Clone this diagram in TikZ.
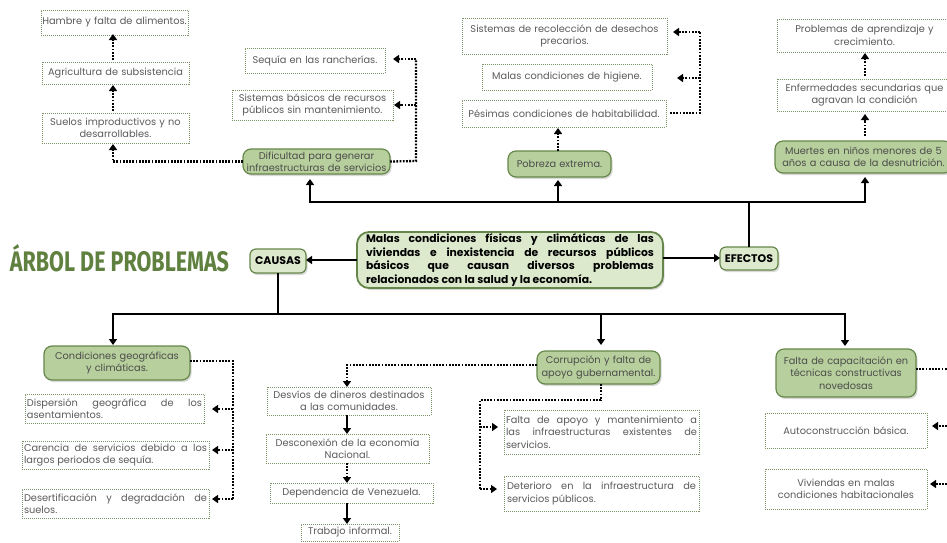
\documentclass[tikz,border=0pt]{standalone}
\usepackage{fontspec}
\usepackage{graphicx}
\setmainfont{Poppins}
\newfontfamily\titlefont{Fira Sans}
\usetikzlibrary{arrows.meta,shadows,calc}
\definecolor{boxline}{HTML}{7C9366}
\definecolor{txt}{HTML}{5A5A5A}
\definecolor{leaf}{HTML}{B7CF9C}
\definecolor{leafline}{HTML}{66874A}
\definecolor{pale}{HTML}{DCE9CD}
\definecolor{olive}{HTML}{5F803E}
\tikzset{
  x=1pt,y=-1pt,
  base/.style={inner sep=0pt,outer sep=0pt,text=txt,font=\fontsize{9.8}{12.4}\selectfont,align=center},
  dbox/.style={base,draw=boxline,line width=0.9pt,dash pattern=on 1pt off 1pt},
  jbox/.style={dbox,align=justify},
  leafbox/.style={base,draw=leafline,line width=1.2pt,fill=leaf,rounded corners=8pt,text=txt!85!black,
    drop shadow={opacity=0.3,shadow xshift=1.5pt,shadow yshift=-2pt}},
  mainbox/.style={leafbox,fill=pale,text=black,line width=1.8pt,rounded corners=12pt,align=justify,
    font=\fontsize{10.8}{13.7}\selectfont\bfseries},
  headbox/.style={leafbox,fill=pale,text=black,rounded corners=6pt,font=\fontsize{11}{12}\selectfont\bfseries},
  solidarrow/.style={line width=2pt,draw=black,-{Triangle[length=6pt,width=8pt]}},
  solidline/.style={line width=2pt,draw=black},
  dotarrow/.style={line width=2.3pt,draw=black,dash pattern=on 1.8pt off 1.4pt,-{Triangle[length=6pt,width=8pt,sep=0pt]}},
  dotline/.style={line width=2.3pt,draw=black,dash pattern=on 1.8pt off 1.4pt},
}
\newcommand{\bx}[7][5]{%
  \pgfmathsetmacro{\bxw}{#5-#3}\pgfmathsetmacro{\bxh}{#6-#4}%
  \pgfmathsetmacro{\bxc}{(#3+#5)/2}\pgfmathsetmacro{\bxm}{(#4+#6)/2}%
  \pgfmathsetmacro{\bxt}{\bxw-2*#1}%
  \node[#2,minimum width=\bxw pt,minimum height=\bxh pt,text width=\bxt pt] (#7) at (\bxc,\bxm)}
\begin{document}
\begin{tikzpicture}
\useasboundingbox (0,0) rectangle (947,542);
\clip (0,0) rectangle (947,542);
% title
\node[inner sep=0pt,text=olive] (title) at (119.5,258.5) {\resizebox{219pt}{27pt}{\titlefont\bfseries ÁRBOL DE PROBLEMAS}};
% top-left
\bx[1]{dbox}{41}{10}{188}{35}{hambre} {Hambre y falta de alimentos.};
\bx[1]{dbox}{42}{62}{189}{84}{agri} {Agricultura de subsistencia};
\bx[1]{dbox}{42}{113}{189}{143}{suelos} {Suelos improductivos y no\\desarrollables.};
\bx[1]{dbox}{245}{48}{385}{73}{sequia} {Sequía en las rancherías.};
\bx[1]{dbox}{232}{90}{393}{120}{sisbas} {Sistemas básicos de recursos\\públicos sin mantenimiento.};
\bx[1]{leafbox}{243}{149}{390}{174}{dific} {Dificultad para generar\\infraestructuras de servicios};
% top-middle
\bx[1]{dbox}{462}{18}{667}{54}{recol} {Sistemas de recolección de desechos\\precarios.};
\bx[1]{dbox}{482}{64}{652}{90}{higiene} {Malas condiciones de higiene.};
\bx[1]{dbox}{462}{100}{666}{127}{pesimas} {Pésimas condiciones de habitabilidad.};
\bx[1]{leafbox}{508}{151}{611}{177}{pobreza} {Pobreza extrema.};
% top-right
\bx[1]{dbox}{777}{19}{952}{52}{aprend} {Problemas de aprendizaje y\\crecimiento.};
\bx[1]{dbox}{777}{79}{952}{111}{enferm} {Enfermedades secundarias que\\agravan la condición};
\bx[1]{leafbox}{775}{141}{952}{173}{muertes} {Muertes en niños menores de 5\\años a causa de la desnutrición.};
% centre
\bx[9]{mainbox}{357}{232}{663}{288}{main} {Malas condiciones físicas y climáticas de las\linebreak viviendas e inexistencia de recursos públicos\linebreak básicos que causan diversos problemas\linebreak relacionados con la salud y la economía.};
\bx[1]{headbox}{250}{249}{306}{273}{causas} {CAUSAS};
\bx[1]{headbox}{720}{247}{778}{270}{efectos} {EFECTOS};
% bottom-left
\bx[1]{leafbox}{44}{346}{190}{380}{geo} {Condiciones geográficas\\y climáticas.};
\bx[2]{jbox}{25}{394}{204}{423}{dispers} {Dispersión geográfica de los\linebreak asentamientos.};
\bx[2]{jbox}{22}{441}{209}{469}{carenc} {Carencia de servicios debido a los\linebreak largos periodos de sequía.};
\bx[2]{jbox}{22}{489}{209}{518}{desert} {Desertificación y degradación de\linebreak suelos.};
% bottom-middle
\bx[1]{dbox}{267}{387}{431}{415}{desvios} {Desvíos de dineros destinados\\a las comunidades.};
\bx[1]{dbox}{266}{434}{429}{463}{descon} {Desconexión de la economía\\Nacional.};
\bx[1]{dbox}{270}{483}{433}{503}{depend} {Dependencia de Venezuela.};
\bx[1]{dbox}{301}{524}{399}{541}{trabajo} {Trabajo informal.};
\bx[1]{leafbox}{537}{351}{660}{384}{corrup} {Corrupción y falta de\\apoyo gubernamental.};
\bx[2]{jbox}{504}{410}{699}{454}{apoyo} {Falta de apoyo y mantenimiento a\linebreak las infraestructuras existentes de\linebreak servicios.};
\bx[3]{jbox}{504}{476}{699}{511}{deter} {Deterioro en la infraestructura de\linebreak servicios públicos.};
% bottom-right
\bx[1]{leafbox}{776}{349}{916}{397}{capac} {Falta de capacitación en\\técnicas constructivas\\novedosas};
\bx[1]{dbox}{765}{413}{927}{448}{autoc} {Autoconstrucción básica.\\[6pt]};
\bx[1]{dbox}{765}{469}{927}{509}{vivi} {Viviendas en malas\\condiciones habitacionales};
% junction points
\coordinate (topbus) at (749,202);
\coordinate (lowbus) at (278,314);
\coordinate (drt) at (416,161);
\coordinate (drm) at (416,105);
\coordinate (drs) at (416,59);
\coordinate (prt) at (700,113);
\coordinate (prm) at (700,78);
\coordinate (prs) at (700,32);
\coordinate (grt) at (233,361);
\coordinate (gra) at (233,409);
\coordinate (grb) at (233,450);
\coordinate (grc) at (233,499);
\coordinate (cd) at (601,400);
\coordinate (cl) at (480,400);
\coordinate (cla) at (480,427);
\coordinate (clb) at (480,489);
\coordinate (cdt) at (347,365);
\coordinate (crt) at (960,369);
\coordinate (cra) at (960,426);
\coordinate (crb) at (960,484);
% solid connectors
\draw[solidarrow] (main.west |- 0,260) -- (causas.east |- 0,260);
\draw[solidarrow] (main.east |- 0,258) -- (efectos.west |- 0,258);
\draw[solidline] (efectos.north) -- (topbus);
\draw[solidarrow] (topbus) -| ([yshift=-4pt]muertes.south -| 865,0);
\draw[solidarrow] (topbus) -| ([yshift=-3pt]pobreza.south -| 558,0);
\draw[solidarrow] (topbus) -| ([yshift=-5pt]dific.south -| 310,0);
\draw[solidline] (lowbus |- causas.south) -- (lowbus);
\draw[solidarrow] (lowbus) -| ([yshift=1pt]geo.north -| 113,0);
\draw[solidarrow] (lowbus) -| ([yshift=6pt]corrup.north -| 601,0);
\draw[solidarrow] (lowbus) -| ([yshift=3pt]capac.north -| 845,0);
\draw[solidarrow] (desvios.south -| 347,0) -- (descon.north -| 347,0);
\draw[solidarrow] (depend.south -| 347,0) -- (trabajo.north -| 347,0);
% dotted connectors
\draw[dotarrow] (descon.south -| 347,0) -- (depend.north -| 347,0);
\draw[dotarrow] ([yshift=2pt]agri.north -| 113,0) -- ([yshift=1pt]hambre.south -| 113,0);
\draw[dotarrow] ([yshift=2pt]suelos.north -| 113,0) -- ([yshift=-1pt]agri.south -| 113,0);
\draw[dotarrow] (dific.west) -| ([yshift=-1pt]suelos.south -| 113,0);
\draw[dotline] (dific.east) -- (drt) -- (drs);
\draw[dotarrow] (drs) -- ([xshift=8pt]sequia.east |- drs);
\draw[dotarrow] (drm) -- ([xshift=1pt]sisbas.east |- drm);
\draw[dotarrow] (pobreza.north -| 558,0) -- ([yshift=-1pt]pesimas.south -| 558,0);
\draw[dotline] ([xshift=4pt]pesimas.east |- prt) -- (prt) -- (prs);
\draw[dotarrow] (prs) -- ([xshift=6pt]recol.east |- prs);
\draw[dotarrow] (prm) -- ([xshift=25pt]higiene.east |- prm);
\draw[dotarrow] ([yshift=5pt]muertes.north -| 865,0) -- ([yshift=-3pt]enferm.south -| 865,0);
\draw[dotarrow] ([yshift=3pt]enferm.north -| 865,0) -- ([yshift=-1pt]aprend.south -| 865,0);
\draw[dotline] (geo.east |- grt) -- (grt) -- (grc);
\draw[dotarrow] (gra) -- ([xshift=8pt]dispers.east |- gra);
\draw[dotarrow] (grb) -- ([xshift=3pt]carenc.east |- grb);
\draw[dotarrow] (grc) -- ([xshift=3pt]desert.east |- grc);
\draw[dotarrow] (corrup.west |- cdt) -| (desvios.north -| cdt);
\draw[dotline] (corrup.south -| cd) -- (cd) -- (cl) -- (clb);
\draw[dotarrow] (cla) -- ([xshift=-6pt]apoyo.west |- cla);
\draw[dotarrow] (clb) -- ([xshift=-7pt]deter.west |- clb);
\draw[dotline] (capac.east |- crt) -- (crt);
\draw[dotarrow] (cra) -- ([xshift=5pt]autoc.east |- cra);
\draw[dotarrow] (crb) -- ([xshift=3pt]vivi.east |- crb);
\end{tikzpicture}
\end{document}
